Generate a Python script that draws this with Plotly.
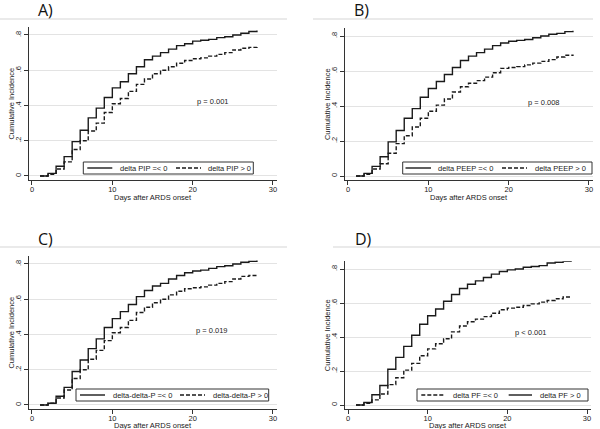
import plotly.graph_objects as go

# ---------------- data ----------------
days = list(range(1, 29))

a_le0 = [0.0, 0.015, 0.055, 0.11, 0.195, 0.26, 0.33, 0.385, 0.445, 0.50, 0.535, 0.58, 0.62, 0.66,
         0.68, 0.70, 0.72, 0.74, 0.75, 0.765, 0.77, 0.775, 0.785, 0.79, 0.80, 0.81, 0.82, 0.825]
a_gt0 = [0.0, 0.01, 0.04, 0.08, 0.15, 0.20, 0.255, 0.30, 0.36, 0.41, 0.44, 0.48, 0.52, 0.55,
         0.58, 0.60, 0.62, 0.64, 0.655, 0.665, 0.67, 0.68, 0.69, 0.70, 0.715, 0.725, 0.73, 0.735]

b_le0 = [0.0, 0.015, 0.055, 0.11, 0.195, 0.26, 0.33, 0.385, 0.45, 0.50, 0.54, 0.58, 0.62, 0.66,
         0.685, 0.705, 0.725, 0.745, 0.76, 0.77, 0.775, 0.78, 0.79, 0.80, 0.81, 0.815, 0.825, 0.83]
b_gt0 = [0.0, 0.01, 0.04, 0.07, 0.13, 0.185, 0.23, 0.28, 0.33, 0.37, 0.405, 0.44, 0.48, 0.51,
         0.53, 0.545, 0.565, 0.59, 0.615, 0.62, 0.625, 0.635, 0.645, 0.655, 0.665, 0.68, 0.69, 0.695]

c_le0 = [0.0, 0.01, 0.05, 0.10, 0.19, 0.255, 0.32, 0.375, 0.44, 0.49, 0.53, 0.57, 0.615, 0.65,
         0.675, 0.69, 0.715, 0.735, 0.75, 0.76, 0.765, 0.775, 0.785, 0.79, 0.80, 0.81, 0.815, 0.82]
c_gt0 = [0.0, 0.01, 0.04, 0.085, 0.15, 0.20, 0.26, 0.31, 0.365, 0.41, 0.44, 0.48, 0.525, 0.555,
         0.58, 0.60, 0.625, 0.645, 0.66, 0.665, 0.67, 0.68, 0.69, 0.70, 0.715, 0.73, 0.735, 0.74]

d_le0 = [0.0, 0.01, 0.03, 0.065, 0.12, 0.16, 0.205, 0.245, 0.29, 0.33, 0.36, 0.39, 0.43, 0.465,
         0.49, 0.505, 0.52, 0.54, 0.56, 0.57, 0.575, 0.585, 0.595, 0.605, 0.615, 0.625, 0.635, 0.64]
d_gt0 = [0.0, 0.015, 0.06, 0.115, 0.21, 0.28, 0.345, 0.41, 0.475, 0.525, 0.565, 0.61, 0.65, 0.685,
         0.71, 0.73, 0.75, 0.77, 0.785, 0.795, 0.80, 0.81, 0.815, 0.82, 0.835, 0.84, 0.845, 0.85]

panel_labels = ["A)", "B)", "C)", "D)"]
pvalues = ["p = 0.001", "p = 0.008", "p = 0.019", "p < 0.001"]
p_pos = [(22.5, 0.42), (24.4, 0.42), (22.4, 0.42), (23.0, 0.424)]
x_title = "Days after ARDS onset"
y_title = "Cumulative Incidence"
x_ticks = [0, 10, 20, 30]
y_ticks = [0, 0.2, 0.4, 0.6, 0.8]
y_ticklabels = ["0", ".2", ".4", ".6", ".8"]

# (name, values, solid?) in legend order
series = [
    [("delta PIP =< 0", a_le0, True), ("delta PIP > 0", a_gt0, False)],
    [("delta PEEP =< 0", b_le0, True), ("delta PEEP > 0", b_gt0, False)],
    [("delta-delta-P =< 0", c_le0, True), ("delta-delta-P > 0", c_gt0, False)],
    [("delta PF =< 0", d_le0, False), ("delta PF > 0", d_gt0, True)],
]

# ---------------- layout geometry (pixels) ----------------
W, H = 600, 429
XR = [-0.4, 30.5]
YR = [-0.023, 0.845]
# pixel positions of x=0, x=30, y=0, y=0.8 for each panel
geo = [
    (32, 273, 176, 35),
    (348, 589, 176, 36),
    (32, 273, 405, 264),
    (348, 587, 405, 269),
]
# axis-title positions: (x-title center y, y-title center x)
title_xy = [(197, 12), (197, 327), (425, 12), (425, 327)]
# legend box: x0, x1, y0, y1 ; key1 x0,x1, text1 x ; key2 x0,x1, text2 x
leg_geo = [
    ((83.3, 253.3, 162, 174), (87.3, 112.3, 117.5), (176, 201, 205.5)),
    ((402.7, 592, 162, 174), (405.5, 431, 435.5), (502, 527, 532.5)),
    ((76, 268.7, 389, 401), (80, 105, 110.5), (180, 205, 211)),
    ((417, 588, 389, 401), (421.3, 445.3, 451), (508.7, 532, 537.5)),
]
title_pos = [(36, 10), (352, 10), (36, 239), (353, 239)]
sep_lines = [(0, 287, 19), (313, 593, 19), (0, 287, 247), (333, 600, 247)]

FONT = "Liberation Sans, Arial, sans-serif"
INK = "#1a1a1a"
DASH = "4px,2px"
fig = go.Figure()
layout = dict(
    width=W, height=H, margin=dict(l=0, r=0, t=0, b=0),
    paper_bgcolor="white", plot_bgcolor="white", showlegend=False,
    font=dict(family=FONT, size=7.5, color=INK),
)
shapes, annotations = [], []


def px(x):
    return x / W


def py(y):
    return 1 - y / H


def text_font(size=7.5, family=FONT, color=INK):
    return dict(size=size, family=family, color=color)


for i in range(4):
    k = "" if i == 0 else str(i + 1)
    x0, x30, y0, y8 = geo[i]
    sx = (x30 - x0) / 30.0
    sy = (y0 - y8) / 0.8
    xl = (x0 + XR[0] * sx) / W
    xr = (x0 + XR[1] * sx) / W
    yb = 1 - (y0 - YR[0] * sy) / H
    yt = 1 - (y0 - YR[1] * sy) / H
    for name, vals, solid in series[i]:
        fig.add_trace(go.Scatter(
            x=days, y=vals, mode="lines", name=name, line_shape="hv",
            line=dict(color=INK, width=1.4, dash="solid" if solid else DASH),
            xaxis="x" + k, yaxis="y" + k, hoverinfo="skip",
        ))
    layout["xaxis" + k] = dict(
        domain=[xl, xr], range=XR, anchor="y" + k, tickvals=x_ticks,
        ticks="outside", ticklen=4, tickcolor="#333", showline=True, linecolor="#333",
        linewidth=1, showgrid=False, zeroline=False, fixedrange=True,
        ticklabelstandoff=-2, tickfont=text_font(),
    )
    layout["yaxis" + k] = dict(
        domain=[yb, yt], range=YR, anchor="x" + k, tickvals=y_ticks, ticktext=y_ticklabels,
        tickangle=-90, ticks="outside", ticklen=4, tickcolor="#333", showline=True,
        linecolor="#333", linewidth=1, showgrid=True, gridcolor="#e3e3e3", gridwidth=1,
        zeroline=False, fixedrange=True, tickfont=text_font(),
    )
    # axis titles
    xty, ytx = title_xy[i]
    annotations.append(dict(x=(xl + xr) / 2, y=py(xty), xref="paper", yref="paper", text=x_title,
                            showarrow=False, xanchor="center", yanchor="middle", borderpad=0,
                            font=text_font()))
    annotations.append(dict(x=px(ytx), y=(yb + yt) / 2, xref="paper", yref="paper", text=y_title,
                            showarrow=False, xanchor="center", yanchor="middle", textangle=-90,
                            font=text_font()))
    # legend drawn as a key box
    (bx0, bx1, by0, by1), (k1a, k1b, t1), (k2a, k2b, t2) = leg_geo[i]
    ymid = (by0 + by1) / 2
    shapes.append(dict(type="rect", xref="paper", yref="paper", x0=px(bx0), x1=px(bx1),
                       y0=py(by1), y1=py(by0), fillcolor="white", line=dict(color="#333", width=1)))
    for (ka, kb, tx), (name, vals, solid) in zip([(k1a, k1b, t1), (k2a, k2b, t2)], series[i]):
        shapes.append(dict(type="line", xref="paper", yref="paper", x0=px(ka), x1=px(kb),
                           y0=py(ymid), y1=py(ymid),
                           line=dict(color=INK, width=1.4, dash="solid" if solid else DASH)))
        annotations.append(dict(x=px(tx), y=py(ymid), xref="paper", yref="paper", text=name,
                                showarrow=False, xanchor="left", yanchor="middle", font=text_font()))
    ppx, ppy = p_pos[i]
    annotations.append(dict(x=ppx, y=ppy, xref="x" + k, yref="y" + k, text=pvalues[i],
                            showarrow=False, font=text_font()))
    tx, ty = title_pos[i]
    annotations.append(dict(x=px(tx), y=py(ty), xref="paper", yref="paper", text=panel_labels[i],
                            showarrow=False, xanchor="left", yanchor="middle",
                            font=text_font(16, "Open Sans, sans-serif", "#111")))
    sx0, sx1, sy_ = sep_lines[i]
    shapes.append(dict(type="line", xref="paper", yref="paper", x0=px(sx0), x1=px(sx1),
                       y0=py(sy_), y1=py(sy_), line=dict(color="#d5d5d5", width=1)))

layout["shapes"] = shapes
layout["annotations"] = annotations
fig.update_layout(**layout)
fig.write_html(
    "out.html",
    config={"displayModeBar": False, "staticPlot": True},
    post_script="document.body.style.margin='0';document.body.style.overflow='hidden';",
)
